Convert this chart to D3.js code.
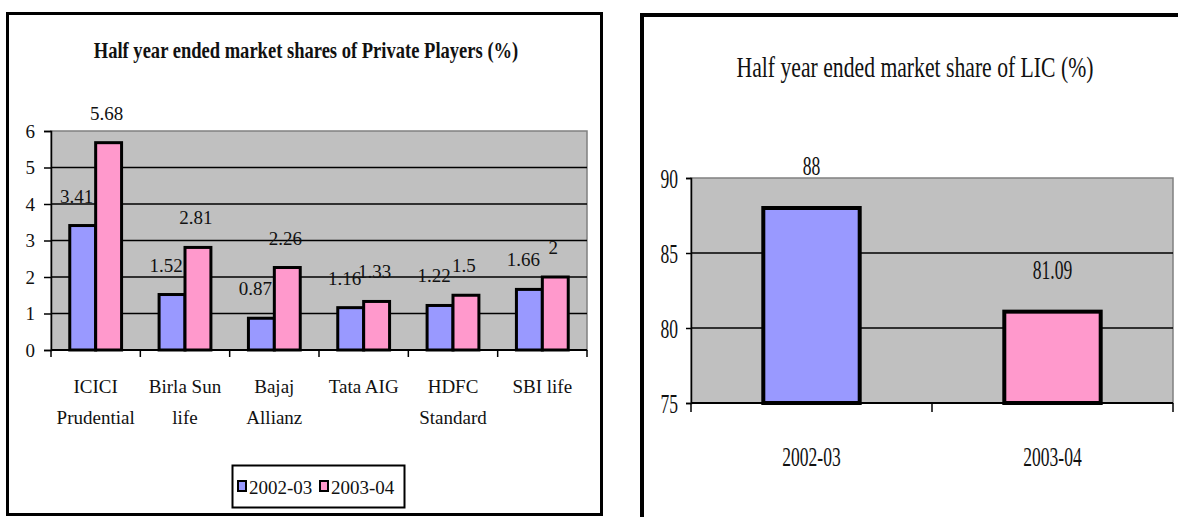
<!DOCTYPE html>
<html>
<head>
<meta charset="utf-8">
<script src="https://cdn.jsdelivr.net/npm/d3@7"></script>
<style>
  body { margin: 0; background: #fff; }
  text { font-family: "Liberation Serif", "Times New Roman", serif; fill: #111; }
</style>
</head>
<body>
<div id="charts"></div>
<script>
// private players chart data
var companies = ["ICICI Prudential", "Birla Sun life", "Bajaj Allianz", "Tata AIG", "HDFC Standard", "SBI life"];
var companyLines = [["ICICI", "Prudential"], ["Birla Sun", "life"], ["Bajaj", "Allianz"], ["Tata AIG"], ["HDFC", "Standard"], ["SBI life"]];
var years = ["2002-03", "2003-04"];
var share0203 = [3.41, 1.52, 0.87, 1.16, 1.22, 1.66];
var share0304 = [5.68, 2.81, 2.26, 1.33, 1.5, 2];
var privateTicks = [0, 1, 2, 3, 4, 5, 6];

// LIC chart data
var licYears = ["2002-03", "2003-04"];
var licShare = [88, 81.09];
var licTicks = [75, 80, 85, 90];

var width = 1178;
var height = 517;
var colors = { "2002-03": "#9999ff", "2003-04": "#ff99cc" };
var squeeze = 0.65;

var svg = d3.select("#charts").append("svg")
      .attr("width", width)
      .attr("height", height);

// squeeze a title horizontally so it fits the wanted width
function fitTitle (sel, cx, cy, wanted) {
      var w = sel.node().getComputedTextLength();
      var s = Math.min(1, wanted / w);
      sel.attr("transform", "translate(" + cx + "," + cy + ") scale(" + s + ",1)");
}

// ---------------- left panel ----------------
svg.append("rect")
      .attr("x", 7.5).attr("y", 13.5)
      .attr("width", 594).attr("height", 501)
      .attr("fill", "#fff").attr("stroke", "#000").attr("stroke-width", 3);

var leftTitle = svg.append("text")
      .attr("text-anchor", "middle")
      .attr("font-weight", "bold")
      .attr("font-size", 23)
      .text("Half year ended market shares of Private Players (%)");
fitTitle(leftTitle, 306, 58, 425);

var x0 = d3.scaleBand()
      .domain(companies)
      .range([51, 587])
      .paddingInner(0.42)
      .paddingOuter(0.21);

var x1 = d3.scaleBand()
      .domain(years)
      .range([0, x0.bandwidth()]);

var y = d3.scaleLinear()
      .domain([0, 6])
      .range([350, 131]);

var left = svg.append("g");

left.append("rect")
      .attr("x", x0.range()[0]).attr("y", y(6))
      .attr("width", x0.range()[1] - x0.range()[0])
      .attr("height", y(0) - y(6))
      .attr("fill", "#c0c0c0").attr("stroke", "#808080").attr("stroke-width", 1.5);

// grid lines
left.selectAll(".grid")
      .data(privateTicks.filter(d => d > 0 && d < 6))
      .enter().append("line")
      .attr("x1", x0.range()[0]).attr("x2", x0.range()[1])
      .attr("y1", d => y(d)).attr("y2", d => y(d))
      .attr("stroke", "#000").attr("stroke-width", 1.5);

var rows = companies.map((c, i) => ({ company: c, values: [
      { year: years[0], value: share0203[i] },
      { year: years[1], value: share0304[i] }] }));

var groups = left.selectAll(".group")
      .data(rows)
      .enter().append("g")
      .attr("transform", d => "translate(" + x0(d.company) + ",0)");

groups.selectAll("rect")
      .data(d => d.values)
      .enter().append("rect")
      .attr("x", d => x1(d.year))
      .attr("y", d => y(d.value))
      .attr("width", x1.bandwidth())
      .attr("height", d => y(0) - y(d.value))
      .attr("fill", d => colors[d.year])
      .attr("stroke", "#000").attr("stroke-width", 3);

// value labels, the first series sits a little to the left like the original
groups.selectAll(".lbl")
      .data(d => d.values)
      .enter().append("text")
      .attr("x", d => x1(d.year) + x1.bandwidth() / 2 - (d.year === years[0] ? 6 : 2))
      .attr("y", d => y(d.value) - 23)
      .attr("text-anchor", "middle")
      .attr("font-size", 19)
      .text(d => d.value);

// y axis
var yAxis = d3.axisLeft(y).tickValues(privateTicks).tickFormat(d3.format("d")).tickSize(7).tickPadding(9);
left.append("g")
      .attr("transform", "translate(" + x0.range()[0] + ",0)")
      .call(yAxis)
      .call(g => g.select(".domain").attr("stroke", "#000").attr("stroke-width", 1.5))
      .call(g => g.selectAll(".tick line").attr("stroke", "#000").attr("stroke-width", 1.5))
      .call(g => g.selectAll(".tick text").attr("font-size", 19).attr("font-family", null).attr("fill", "#111"));

// x axis with ticks at category boundaries
var step = x0.step();
var bounds = d3.range(companies.length + 1).map(i => x0.range()[0] + i * step);
left.append("line")
      .attr("x1", x0.range()[0]).attr("x2", x0.range()[1])
      .attr("y1", y(0)).attr("y2", y(0))
      .attr("stroke", "#000").attr("stroke-width", 2);
left.selectAll(".xtick")
      .data(bounds)
      .enter().append("line")
      .attr("x1", d => d).attr("x2", d => d)
      .attr("y1", y(0)).attr("y2", y(0) + 7)
      .attr("stroke", "#000").attr("stroke-width", 1.5);

left.selectAll(".xlabel")
      .data(companies)
      .enter().append("text")
      .attr("text-anchor", "middle")
      .attr("font-size", 19)
      .attr("x", d => x0(d) + x0.bandwidth() / 2)
      .attr("y", 393)
      .each(function (d, i) {
            var t = d3.select(this);
            companyLines[i].forEach((line, j) => {
                  t.append("tspan")
                        .attr("x", x0(d) + x0.bandwidth() / 2)
                        .attr("dy", j === 0 ? 0 : 31)
                        .text(line);
            });
      });

// legend
var legend = left.append("g");
legend.append("rect")
      .attr("x", 232.5).attr("y", 465.5)
      .attr("width", 172).attr("height", 42)
      .attr("fill", "#fff").attr("stroke", "#000").attr("stroke-width", 2);
var legendX = [238, 320];
years.forEach((yr, i) => {
      legend.append("rect")
            .attr("x", legendX[i]).attr("y", 481)
            .attr("width", 8).attr("height", 10)
            .attr("fill", colors[yr]).attr("stroke", "#000").attr("stroke-width", 2);
      legend.append("text")
            .attr("x", legendX[i] + 11).attr("y", 494)
            .attr("font-size", 19)
            .text(yr);
});

// ---------------- right panel ----------------
svg.append("rect")
      .attr("x", 642).attr("y", 15)
      .attr("width", 600).attr("height", 600)
      .attr("fill", "#fff").attr("stroke", "#000").attr("stroke-width", 4);

var rightTitle = svg.append("text")
      .attr("text-anchor", "middle")
      .attr("font-size", 29)
      .attr("fill", "#222")
      .text("Half year ended market share of LIC (%)");
fitTitle(rightTitle, 915, 77, 357);

var xL = d3.scaleBand()
      .domain(licYears)
      .range([691, 1173])
      .paddingInner(0.6)
      .paddingOuter(0.3);

var yL = d3.scaleLinear()
      .domain([75, 90])
      .range([403, 178]);

var right = svg.append("g");

right.append("rect")
      .attr("x", xL.range()[0]).attr("y", yL(90))
      .attr("width", xL.range()[1] - xL.range()[0])
      .attr("height", yL(75) - yL(90))
      .attr("fill", "#c0c0c0").attr("stroke", "#808080").attr("stroke-width", 1.5);

right.selectAll(".grid")
      .data(licTicks.filter(d => d > 75 && d < 90))
      .enter().append("line")
      .attr("x1", xL.range()[0]).attr("x2", xL.range()[1])
      .attr("y1", d => yL(d)).attr("y2", d => yL(d))
      .attr("stroke", "#000").attr("stroke-width", 1.5);

right.selectAll(".bar")
      .data(licShare)
      .enter().append("rect")
      .attr("x", (d, i) => xL(licYears[i]))
      .attr("y", d => yL(d))
      .attr("width", xL.bandwidth())
      .attr("height", d => yL(75) - yL(d))
      .attr("fill", (d, i) => colors[licYears[i]])
      .attr("stroke", "#000").attr("stroke-width", 4);

// condensed text: scale horizontally around the anchor point
right.selectAll(".val")
      .data(licShare)
      .enter().append("text")
      .attr("text-anchor", "middle")
      .attr("font-size", 27)
      .attr("fill", "#222")
      .attr("transform", (d, i) => "translate(" + (xL(licYears[i]) + xL.bandwidth() / 2) + "," + (yL(d) - 33) + ") scale(" + squeeze + ",1)")
      .text(d => d);

var yAxisL = d3.axisLeft(yL).tickValues(licTicks).tickSize(5);
right.append("g")
      .attr("transform", "translate(" + xL.range()[0] + ",0)")
      .call(yAxisL)
      .call(g => g.select(".domain").attr("stroke", "#000").attr("stroke-width", 1.5))
      .call(g => g.selectAll(".tick line").attr("stroke", "#000").attr("stroke-width", 1.5))
      .call(g => g.selectAll(".tick text")
            .attr("x", null).attr("dy", null)
            .attr("y", 9)
            .attr("font-size", 27).attr("font-family", null).attr("fill", "#222")
            .attr("transform", "translate(-13,0) scale(" + squeeze + ",1)"));

var stepL = xL.step();
var boundsL = d3.range(licYears.length + 1).map(i => xL.range()[0] + i * stepL);
right.append("line")
      .attr("x1", xL.range()[0]).attr("x2", xL.range()[1])
      .attr("y1", yL(75)).attr("y2", yL(75))
      .attr("stroke", "#000").attr("stroke-width", 2);
right.selectAll(".xtick")
      .data(boundsL)
      .enter().append("line")
      .attr("x1", d => d).attr("x2", d => d)
      .attr("y1", yL(75)).attr("y2", yL(75) + 9)
      .attr("stroke", "#000").attr("stroke-width", 1.5);

right.selectAll(".xlabel")
      .data(licYears)
      .enter().append("text")
      .attr("text-anchor", "middle")
      .attr("font-size", 27)
      .attr("fill", "#222")
      .attr("transform", d => "translate(" + (xL(d) + xL.bandwidth() / 2) + ",466) scale(" + squeeze + ",1)")
      .text(d => d);
</script>
</body>
</html>
